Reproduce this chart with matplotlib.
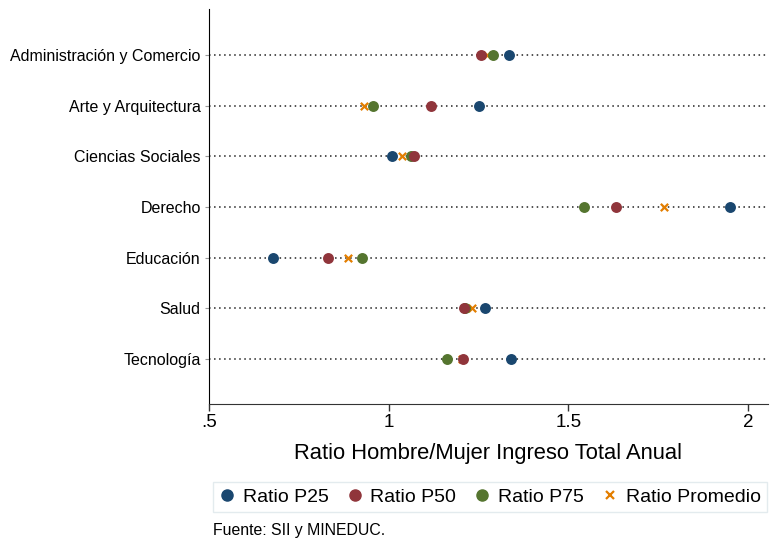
#!/usr/bin/env python3

# Ratio hombre/mujer del ingreso total anual por area de estudio.

import matplotlib
matplotlib.use("Agg")
import matplotlib.pyplot as plt
from matplotlib.lines import Line2D

plt.rcParams["font.family"] = ["Liberation Sans", "DejaVu Sans"]

areas = ["Administración y Comercio", "Arte y Arquitectura", "Ciencias Sociales",
         "Derecho", "Educación", "Salud", "Tecnología"]
ratio_p25 = [1.336, 1.251, 1.010, 1.950, 0.677, 1.268, 1.340]
ratio_p50 = [1.258, 1.117, 1.072, 1.632, 0.830, 1.211, 1.207]
ratio_p75 = [1.290, 0.957, 1.062, 1.544, 0.925, 1.213, 1.163]
ratio_promedio = [1.273, 0.932, 1.036, 1.766, 0.888, 1.232, 1.205]

x_ticks = [0.5, 1.0, 1.5, 2.0]
x_tick_labels = [".5", "1", "1.5", "2"]

COLOR_P25 = "#1a476f"
COLOR_P50 = "#90353b"
COLOR_P75 = "#55752f"
COLOR_PROM = "#e37e00"


def main():
    fig = plt.figure(figsize=(7.7, 5.46), dpi=100)
    ax = fig.add_axes([209 / 770, 142 / 546, 559 / 770, 395 / 546])

    y = list(range(len(areas)))

    # Dotted guide lines, one per category
    for yi in y:
        ax.axhline(yi, color="#222222", lw=1.1, ls=(0, (1, 2.3)), zorder=1)

    ms = 62
    ax.scatter(ratio_promedio, y, marker="x", s=28, linewidths=1.6,
               color=COLOR_PROM, zorder=2)
    ax.scatter(ratio_p25, y, s=ms, color=COLOR_P25, linewidths=0, zorder=3)
    ax.scatter(ratio_p75, y, s=ms, color=COLOR_P75, linewidths=0, zorder=3)
    ax.scatter(ratio_p50, y, s=ms, color=COLOR_P50, linewidths=0, zorder=4)

    ax.set_xlim(0.5, 2.056)
    ax.set_ylim(6.888, -0.908)
    ax.set_yticks(y, areas, fontsize=11.5)
    ax.set_xticks(x_ticks, x_tick_labels, fontsize=13.5)
    ax.tick_params(axis="y", length=3, width=0.8, color="#999999", pad=3)
    ax.tick_params(axis="x", length=5, width=1.0, color="#333333", pad=2)

    for side in ["top", "right"]:
        ax.spines[side].set_visible(False)
    ax.spines["left"].set_color("black")
    ax.spines["bottom"].set_color("#333333")

    ax.set_xlabel("Ratio Hombre/Mujer Ingreso Total Anual", fontsize=15.8,
                  labelpad=9)

    handles = [
        Line2D([], [], ls="none", marker="o", ms=8, color=COLOR_P25,
               label="Ratio P25"),
        Line2D([], [], ls="none", marker="o", ms=8, color=COLOR_P50,
               label="Ratio P50"),
        Line2D([], [], ls="none", marker="o", ms=8, color=COLOR_P75,
               label="Ratio P75"),
        Line2D([], [], ls="none", marker="x", ms=5.5, mew=1.6,
               color=COLOR_PROM, label="Ratio Promedio"),
    ]
    leg = fig.legend(handles=handles, loc="center",
                     bbox_to_anchor=(490 / 770, 1 - 497 / 546), ncol=4,
                     fontsize=14, frameon=True, fancybox=False,
                     handlelength=0.8, handletextpad=0.4, columnspacing=0.95,
                     borderpad=0.3, borderaxespad=0.0)
    leg.get_frame().set_edgecolor("#dde6ea")
    leg.get_frame().set_linewidth(1.0)

    fig.text(213 / 770, 1 - 531 / 546, "Fuente: SII y MINEDUC.", fontsize=11.4,
             ha="left", va="center")

    fig.savefig("out.png", dpi=100)


if __name__ == "__main__":
    main()
